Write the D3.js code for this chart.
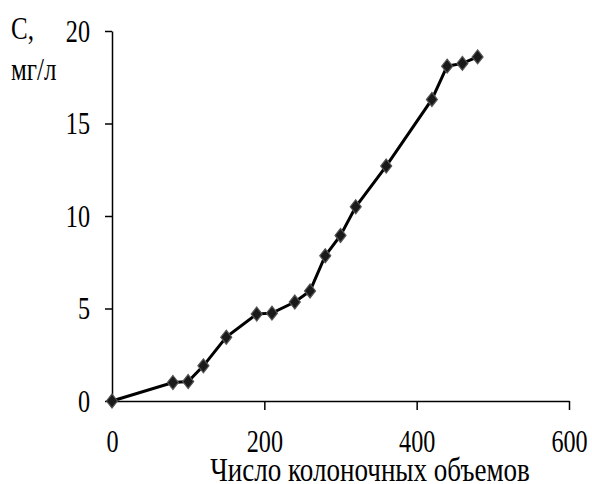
<!DOCTYPE html>
<meta charset="utf-8">
<style>
body { margin: 0; background: #fff; }
text { font-family: "Liberation Serif", "Times New Roman", serif; fill: #000; }
</style>
<body>
<script src="https://cdn.jsdelivr.net/npm/d3@7/dist/d3.min.js"></script>
<script>

// data
var volumes = [0, 80, 100, 120, 150, 190, 210, 240, 260, 280, 300, 320, 360, 420, 440, 460, 480];
var conc    = [0, 1.0, 1.05, 1.9, 3.45, 4.7, 4.75, 5.35, 5.95, 7.85, 8.95, 10.5, 12.7, 16.3, 18.1, 18.25, 18.6];
var xTicks = [0, 200, 400, 600];
var yTicks = [0, 5, 10, 15, 20];

var data = volumes.map(function(v, i) { return {x: v, y: conc[i]}; });

var margin = {top: 31, left: 112},
    width = 457,
    height = 370;

var svg = d3.select("body").append("svg")
    .attr("width", 592)
    .attr("height", 484);

var g = svg.append("g")
    .attr("transform", "translate(" + margin.left + "," + margin.top + ")");

var x = d3.scaleLinear().domain([0, 600]).range([0, width]);
var y = d3.scaleLinear().domain([0, 20]).range([height, 0]);

var sx = 0.78; // text looks horizontally squeezed

// x axis
var xAxis = g.append("g")
    .attr("transform", "translate(0," + height + ")")
    .call(d3.axisBottom(x).tickValues(xTicks).tickSize(9).tickSizeOuter(0).tickFormat(d3.format("d")));
xAxis.select(".domain").attr("stroke", "#000").attr("stroke-width", 1.5);
xAxis.selectAll(".tick line").attr("stroke-width", 1.5)
    .filter(function(d) { return d === 0; }).remove();
xAxis.selectAll(".tick text").remove();
xAxis.selectAll(".tick").append("text")
    .attr("transform", "translate(0,51) scale(" + sx + ",1)")
    .attr("text-anchor", "middle")
    .style("font-size", "31px")
    .text(function(d) { return d; });

// y axis
var yAxis = g.append("g")
    .call(d3.axisLeft(y).tickValues(yTicks).tickSize(7).tickSizeOuter(0));
yAxis.select(".domain").attr("stroke", "#000").attr("stroke-width", 1.5);
yAxis.selectAll(".tick line").attr("stroke-width", 1.5);
yAxis.selectAll(".tick text").remove();
yAxis.selectAll(".tick").append("text")
    .attr("transform", "translate(-22,10) scale(" + sx + ",1)")
    .attr("text-anchor", "end")
    .style("font-size", "31px")
    .text(function(d) { return d; });

// line
var line = d3.line()
    .x(function(d) { return x(d.x); })
    .y(function(d) { return y(d.y); });

g.append("path")
    .datum(data)
    .attr("fill", "none")
    .attr("stroke", "#000")
    .attr("stroke-width", 3)
    .attr("d", line);

// diamond markers
g.selectAll(".pt")
    .data(data)
  .enter().append("path")
    .attr("class", "pt")
    .attr("transform", function(d) { return "translate(" + x(d.x) + "," + y(d.y) + ")"; })
    .attr("d", "M0,-7L5.5,0L0,7L-5.5,0Z")
    .attr("fill", "#1a1a1a")
    .attr("stroke", "#555")
    .attr("stroke-width", 1.2);

// axis titles
svg.append("text")
    .attr("transform", "translate(370,481) scale(0.82,1)")
    .attr("text-anchor", "middle")
    .style("font-size", "33px")
    .text("Число колоночных объемов");

svg.append("text")
    .attr("transform", "translate(11,39) scale(" + sx + ",1)")
    .style("font-size", "32px")
    .text("С,");

svg.append("text")
    .attr("transform", "translate(11,80) scale(" + sx + ",1)")
    .style("font-size", "32px")
    .text("мг/л");

</script>
</body>
